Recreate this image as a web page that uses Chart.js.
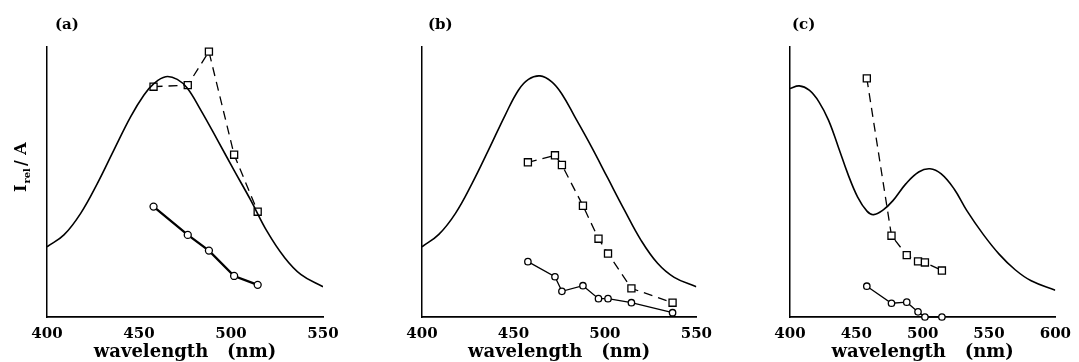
<!DOCTYPE html>
<html>
<head>
<meta charset="utf-8">
<script src="https://cdn.jsdelivr.net/npm/chart.js@4.4.1/dist/chart.umd.min.js"></script>
<style>
  html, body { margin: 0; padding: 0; background: #fff; }
  #wrap { position: relative; width: 1079px; height: 362px; overflow: hidden; }
  canvas { position: absolute; top: 0; }
</style>
</head>
<body>
<div id="wrap">
  <canvas id="ca" width="360" height="362" style="left:0px"></canvas>
  <canvas id="cb" width="360" height="362" style="left:360px"></canvas>
  <canvas id="cc" width="360" height="362" style="left:719px"></canvas>
</div>
<script>
// ---------- Panel (a) ----------
const aCurveX = [400, 409.2, 418.3, 427.4, 436.4, 445.5, 452.7, 458.2, 464.5, 470.8, 476.3, 483.5, 492.6, 501.6, 510.7, 519.7, 528.8, 537.9, 550];
const aCurveY = [26, 30.4, 38.4, 49.5, 61.9, 74.2, 82.2, 86.5, 89, 88, 84.7, 76.7, 65.6, 54.4, 43.3, 31.6, 22.3, 15.8, 11.2];
const aPointX = [457.9, 476.5, 488.0, 501.7, 514.5];
const aSquareY = [85.3, 85.9, 98.3, 60.1, 39.0];
const aCircleY = [40.9, 30.4, 24.6, 15.2, 11.9];

// ---------- Panel (b) ----------
const bCurveX = [400, 409.2, 418.3, 427.4, 436.4, 445.5, 452.7, 458.2, 464.5, 470.8, 476.3, 483.5, 492.6, 501.6, 510.7, 519.7, 528.8, 537.9, 550];
const bCurveY = [26, 30.6, 38.4, 49.5, 61.9, 74.8, 84, 88, 89.3, 87.2, 82.8, 74.2, 63.1, 51.4, 39.6, 28.5, 19.9, 14.7, 11.2];
const bPointX = [457.9, 472.7, 476.5, 488.0, 496.5, 501.7, 514.5, 537.0];
const bSquareY = [57.3, 59.9, 56.3, 41.2, 29.0, 23.5, 10.6, 5.3];
const bCircleY = [20.5, 14.9, 9.5, 11.6, 6.8, 6.8, 5.3, 1.6];

// ---------- Panel (c) ----------
const cCurveX = [400, 407, 414.5, 421.8, 429, 436.4, 443.6, 451, 458, 463, 470.3, 477.6, 487.3, 497, 505.5, 514, 523.6, 533.3, 545.5, 557.6, 569.7, 581.8, 600];
const cCurveY = [84.6, 85.6, 84, 79.7, 72.9, 63, 53, 44.4, 39.2, 37.9, 39.7, 43.1, 49.3, 53.7, 54.9, 53, 47.5, 39.4, 30.7, 23.3, 17.5, 13.4, 9.9];
const cPointX = [457.9, 476.5, 488.0, 496.5, 501.7, 514.5];
const cSquareY = [88.4, 30.1, 22.9, 20.6, 20.2, 17.2];
const cCircleY = [11.4, 5.1, 5.5, 1.9, 0, 0];

// ---------- Axis ticks / labels ----------
const ticksAB = [400, 450, 500, 550];
const ticksC = [400, 450, 500, 550, 600];
const panelLabels = ['(a)', '(b)', '(c)'];
const xTitle = 'wavelength   (nm)';
const yTitleMain = 'I';
const yTitleSub = 'rel';
const yTitleRest = '/ A';

const SERIF = '"DejaVu Serif", "Liberation Serif", serif';

function pts(xs, ys) { return xs.map((x, i) => ({ x: x, y: ys[i] })); }

function makePanel(id, opts) {
  const labelPlugin = {
    id: 'panelText_' + id,
    afterDraw(chart) {
      const ctx = chart.ctx;
      ctx.save();
      ctx.fillStyle = '#000';
      ctx.font = 'bold 15px ' + SERIF;
      ctx.textBaseline = 'middle';
      ctx.textAlign = 'left';
      ctx.fillText(opts.label, opts.labelX, 25);
      if (opts.yTitle) {
        ctx.translate(20, 166);
        ctx.rotate(-Math.PI / 2);
        ctx.textBaseline = 'alphabetic';
        ctx.font = 'bold 16px ' + SERIF;
        let x = -26;
        ctx.fillText(yTitleMain, x, 6);
        x += ctx.measureText(yTitleMain).width + 1;
        ctx.font = 'bold 10px ' + SERIF;
        ctx.fillText(yTitleSub, x, 10);
        x += ctx.measureText(yTitleSub).width + 2;
        ctx.font = 'bold 16px ' + SERIF;
        ctx.fillText(yTitleRest, x, 6);
      }
      ctx.restore();
    }
  };

  return new Chart(document.getElementById(id), {
    type: 'scatter',
    data: {
      datasets: [
        {
          data: pts(opts.curveX, opts.curveY),
          showLine: true,
          borderColor: '#000',
          borderWidth: 1.6,
          pointRadius: 0,
          tension: 0.4,
          fill: false
        },
        {
          data: pts(opts.pointX, opts.squareY),
          showLine: true,
          borderColor: '#000',
          borderWidth: 1.3,
          borderDash: [9, 6],
          pointStyle: 'rect',
          pointRadius: 5,
          pointBorderWidth: 1.3,
          pointBorderColor: '#000',
          pointBackgroundColor: '#fff',
          fill: false,
          clip: false
        },
        {
          data: pts(opts.pointX, opts.circleY),
          showLine: true,
          borderColor: '#000',
          borderWidth: opts.circleLineWidth,
          pointStyle: 'circle',
          pointRadius: opts.circleRadius,
          pointBorderWidth: 1.3,
          pointBorderColor: '#000',
          pointBackgroundColor: '#fff',
          fill: false,
          clip: false
        }
      ]
    },
    options: {
      responsive: false,
      animation: false,
      devicePixelRatio: 1,
      layout: { padding: { left: opts.padLeft, right: opts.padRight, top: 47, bottom: 0 } },
      plugins: { legend: { display: false }, tooltip: { enabled: false }, title: { display: false } },
      scales: {
        x: {
          type: 'linear',
          min: opts.ticks[0],
          max: opts.ticks[opts.ticks.length - 1],
          afterBuildTicks(scale) { scale.ticks = opts.ticks.map(v => ({ value: v })); },
          afterFit(scale) { scale.height = 45; },
          grid: { display: false, drawTicks: false },
          border: { display: true, color: '#000', width: 1.8 },
          ticks: {
            color: '#000',
            font: { family: SERIF, size: 15, weight: 'bold' },
            padding: 8,
            maxRotation: 0,
            autoSkip: false
          },
          title: {
            display: true,
            text: xTitle,
            color: '#000',
            font: { family: SERIF, size: 18, weight: 'bold', lineHeight: 1.1 },
            padding: { top: 0, bottom: 0 }
          }
        },
        y: {
          type: 'linear',
          min: 0,
          max: 100,
          afterFit(scale) { scale.width = 0; },
          grid: { display: false, drawTicks: false },
          border: { display: true, color: '#000', width: 1.5 },
          ticks: { display: false }
        }
      }
    },
    plugins: [labelPlugin]
  });
}

makePanel('ca', {
  curveX: aCurveX, curveY: aCurveY, pointX: aPointX, squareY: aSquareY, circleY: aCircleY,
  ticks: ticksAB, padLeft: 47, padRight: 37, label: panelLabels[0], labelX: 55, yTitle: true,
  circleLineWidth: 2.3, circleRadius: 3.5
});
makePanel('cb', {
  curveX: bCurveX, curveY: bCurveY, pointX: bPointX, squareY: bSquareY, circleY: bCircleY,
  ticks: ticksAB, padLeft: 62, padRight: 22, label: panelLabels[1], labelX: 68, yTitle: false,
  circleLineWidth: 1.3, circleRadius: 3.2
});
makePanel('cc', {
  curveX: cCurveX, curveY: cCurveY, pointX: cPointX, squareY: cSquareY, circleY: cCircleY,
  ticks: ticksC, padLeft: 71, padRight: 14, label: panelLabels[2], labelX: 73, yTitle: false,
  circleLineWidth: 1.3, circleRadius: 3.2
});
</script>
</body>
</html>
